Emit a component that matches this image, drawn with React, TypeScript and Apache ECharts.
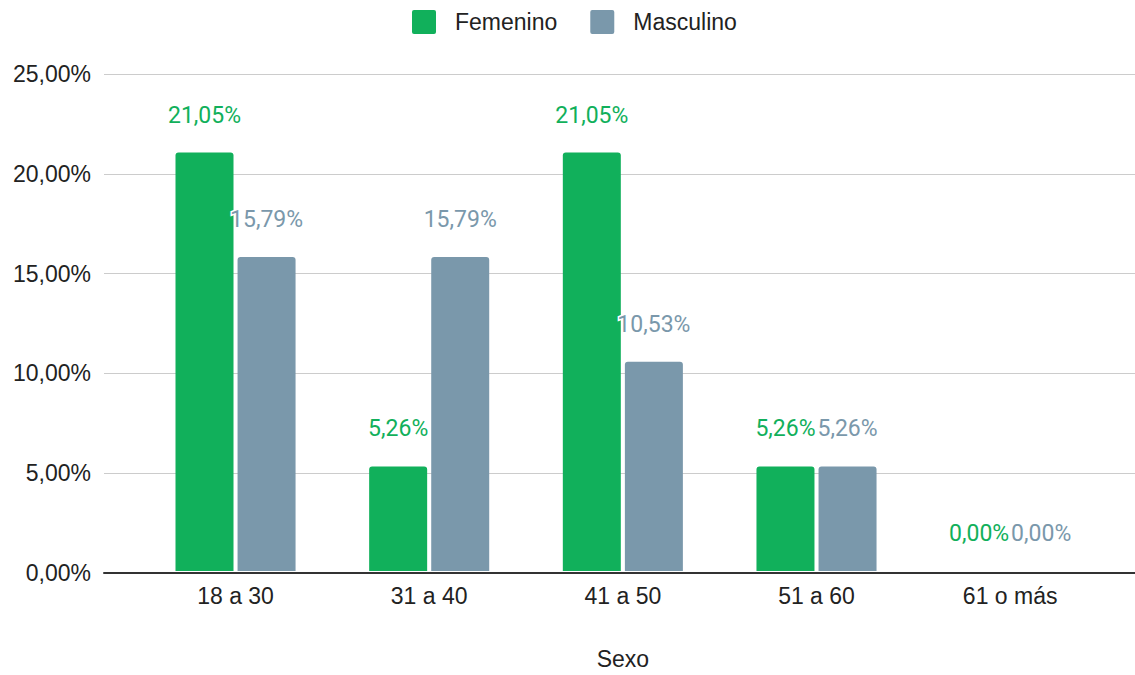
import React, { useEffect, useRef } from "react";
import * as echarts from "echarts";

const categories = ["18 a 30", "31 a 40", "41 a 50", "51 a 60", "61 o más"];
const femenino = [21.05, 5.26, 21.05, 5.26, 0];
const masculino = [15.79, 15.79, 10.53, 5.26, 0];
const seriesNames = ["Femenino", "Masculino"];
const axisTitle = "Sexo";
const yMin = 0;
const yMax = 25;
const yInterval = 5;

const GREEN = "#11b05b";
const GRAY = "#7a98ab";

const fmt = (v: number) => v.toFixed(2).replace(".", ",") + "%";

const legendIcon =
  "path://M2,0H22A2,2,0,0,1,24,2V22A2,2,0,0,1,22,24H2A2,2,0,0,1,0,22V2A2,2,0,0,1,2,0Z";

export default function App() {
  const ref = useRef<HTMLDivElement>(null);
  useEffect(() => {
    if (!ref.current) return;
    const chart = echarts.init(ref.current, undefined, { renderer: "svg" });
    const labelBase = {
      show: true,
      position: "top" as const,
      distance: 26,
      fontFamily: "Roboto",
      fontSize: 23,
      textBorderColor: "#fff",
      textBorderWidth: 3,
      formatter: (p: any) => fmt(p.value),
    };
    chart.setOption({
      animation: false,
      backgroundColor: "#fff",
      textStyle: { fontFamily: "Liberation Sans, Arial, sans-serif" },
      legend: {
        left: 412,
        top: 10,
        padding: 0,
        itemWidth: 24,
        itemHeight: 24,
        itemGap: 33,
        icon: legendIcon,
        textStyle: {
          fontSize: 23,
          color: "#222",
          fontFamily: "Liberation Sans, Arial, sans-serif",
          padding: [0, 0, 0, 14],
        },
        data: seriesNames,
      },
      grid: [
        { left: 104, right: 0, top: 74, bottom: 102 },
        { left: 138.7, right: 28, top: 74, bottom: 102 },
      ],
      xAxis: [
        {
          type: "category",
          gridIndex: 0,
          data: [""],
          z: 10,
          axisLine: { show: true, lineStyle: { color: "#333", width: 2 } },
          axisTick: { show: false },
          axisLabel: { show: false },
          splitLine: { show: false },
        },
        {
          type: "category",
          gridIndex: 1,
          data: categories,
          axisLine: { show: false },
          axisTick: { show: false },
          axisLabel: {
            fontSize: 23,
            color: "#222",
            margin: 13,
            fontFamily: "Liberation Sans, Arial, sans-serif",
          },
          name: axisTitle,
          nameLocation: "middle",
          nameGap: 76,
          nameTextStyle: {
            fontSize: 23,
            color: "#222",
            fontFamily: "Liberation Sans, Arial, sans-serif",
          },
        },
      ],
      yAxis: [
        {
          type: "value",
          gridIndex: 0,
          min: yMin,
          max: yMax,
          interval: yInterval,
          axisLine: { show: false },
          axisTick: { show: false },
          axisLabel: {
            fontSize: 23,
            color: "#222",
            margin: 13,
            fontFamily: "Liberation Sans, Arial, sans-serif",
            formatter: (v: number) => fmt(v),
          },
          splitLine: { lineStyle: { color: "#cccccc", width: 1 } },
        },
        {
          type: "value",
          gridIndex: 1,
          min: yMin,
          max: yMax,
          interval: yInterval,
          show: false,
          splitLine: { show: false },
        },
      ],
      series: [
        {
          name: seriesNames[0],
          type: "bar",
          xAxisIndex: 1,
          yAxisIndex: 1,
          data: femenino,
          barWidth: 58,
          barGap: "7%",
          itemStyle: { color: GREEN, borderRadius: [3, 3, 0, 0] },
          label: { ...labelBase, color: GREEN },
        },
        {
          name: seriesNames[1],
          type: "bar",
          xAxisIndex: 1,
          yAxisIndex: 1,
          data: masculino,
          barWidth: 58,
          barGap: "7%",
          itemStyle: { color: GRAY, borderRadius: [3, 3, 0, 0] },
          label: { ...labelBase, color: GRAY },
        },
      ],
    });
    return () => chart.dispose();
  }, []);
  return (
    <div
      ref={ref}
      style={{ position: "fixed", left: 0, top: 0, width: 1135, height: 675 }}
    />
  );
}
